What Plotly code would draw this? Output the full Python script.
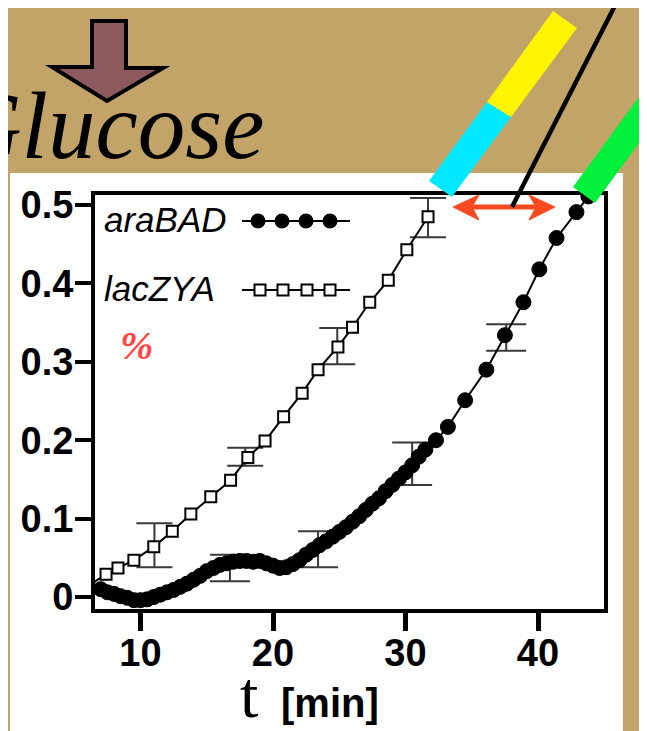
import plotly.graph_objects as go

W, H = 647, 731
OFF = 8  # the page places the figure 8 px in from the top-left corner

# ---------------- data ----------------
ara_t = [6.5, 7.0, 7.5, 8.0, 8.5, 9.0, 9.5, 10.0, 10.5, 11.0, 11.5, 12.0, 12.5, 13.0, 13.5,
         14.0, 14.5, 15.0, 15.5, 16.0, 16.5, 17.0, 17.5, 18.0, 18.5, 19.0, 19.5, 20.0, 20.5,
         21.0, 21.5, 22.0, 22.5, 23.0, 23.5, 24.0, 24.5, 25.0, 25.5, 26.0, 26.5, 27.0, 27.5,
         28.0, 28.5, 29.0, 29.5, 30.0, 30.5, 31.0, 31.5,
         32.3, 33.2, 34.5, 36.1, 37.5, 38.9, 40.1, 41.4, 42.9, 43.8]
ara_v = [0.014, 0.010, 0.006, 0.004, 0.001, -0.001, -0.004, -0.004, -0.003, 0.000, 0.003,
         0.006, 0.009, 0.013, 0.017, 0.022, 0.027, 0.033, 0.037, 0.041, 0.043, 0.045, 0.046,
         0.046, 0.045, 0.046, 0.043, 0.040, 0.037, 0.038, 0.042, 0.047, 0.054, 0.060, 0.066,
         0.071, 0.077, 0.083, 0.089, 0.096, 0.103, 0.111, 0.119, 0.126, 0.135, 0.143, 0.151,
         0.159, 0.168, 0.179, 0.188,
         0.200, 0.217, 0.251, 0.290, 0.334, 0.376, 0.418, 0.458, 0.491, 0.511]

lac_t = [6.5, 7.4, 8.3, 9.5, 11.0, 12.4, 13.8, 15.3, 16.8, 18.1, 19.4, 20.8, 22.2, 23.4,
         24.9, 26.0, 27.3, 28.7, 30.1, 31.7]
lac_v = [0.019, 0.029, 0.037, 0.047, 0.064, 0.084, 0.106, 0.128, 0.149, 0.178, 0.199, 0.230,
         0.260, 0.290, 0.319, 0.344, 0.376, 0.404, 0.443, 0.485]

ara_err_t = [16.75, 23.4, 30.5, 37.6]
ara_err_mid = [0.037, 0.061, 0.170, 0.331]
ara_err = [0.017, 0.023, 0.027, 0.017]

lac_err_t = [11.05, 17.9, 24.85, 31.7]
lac_err_mid = [0.066, 0.179, 0.320, 0.484]
lac_err = [0.028, 0.0115, 0.023, 0.025]

x_ticks = [10, 20, 30, 40]
y_ticks = [0, 0.1, 0.2, 0.3, 0.4, 0.5]
y_tick_text = ["0", "0.1", "0.2", "0.3", "0.4", "0.5"]
series_names = ["araBAD", "lacZYA"]

# ---------------- helpers (screen pixel -> paper) ----------------
def X(px):
    return (px - OFF) / W

def Y(py):
    return 1 - (py - OFF) / H

def poly(points):
    return "M " + " L ".join(f"{X(a):.5f},{Y(b):.5f}" for a, b in points) + " Z"

fig = go.Figure()

# error bars (drawn first, beneath markers)
fig.add_trace(go.Scatter(
    x=ara_err_t, y=ara_err_mid, mode="markers", marker=dict(opacity=0, size=2),
    error_y=dict(type="data", array=ara_err, visible=True, color="#3a3a3a",
                 thickness=2, width=20),
    cliponaxis=False, hoverinfo="skip", showlegend=False))
fig.add_trace(go.Scatter(
    x=lac_err_t, y=lac_err_mid, mode="markers", marker=dict(opacity=0, size=2),
    error_y=dict(type="data", array=lac_err, visible=True, color="#3a3a3a",
                 thickness=2, width=18),
    cliponaxis=False, hoverinfo="skip", showlegend=False))

# araBAD
fig.add_trace(go.Scatter(
    x=ara_t, y=ara_v, mode="lines+markers", name=series_names[0],
    line=dict(color="black", width=2),
    marker=dict(symbol="circle", size=15, color="black", line=dict(color="black", width=1)),
    cliponaxis=False, showlegend=False))
# lacZYA
fig.add_trace(go.Scatter(
    x=lac_t, y=lac_v, mode="lines+markers", name=series_names[1],
    line=dict(color="black", width=2),
    marker=dict(symbol="square", size=11, color="white", line=dict(color="black", width=2)),
    cliponaxis=False, showlegend=False))

# legend samples (screen-pixel overlay axes)
leg_ara_y, leg_lac_y = 221, 290
fig.add_trace(go.Scatter(x=[242, 350], y=[leg_ara_y, leg_ara_y], mode="lines",
                         line=dict(color="black", width=2), xaxis="x2", yaxis="y2",
                         hoverinfo="skip", showlegend=False))
fig.add_trace(go.Scatter(x=[258, 282, 306, 330], y=[leg_ara_y] * 4, mode="markers",
                         marker=dict(symbol="circle", size=15, color="black"),
                         xaxis="x2", yaxis="y2", hoverinfo="skip", showlegend=False))
fig.add_trace(go.Scatter(x=[242, 350], y=[leg_lac_y, leg_lac_y], mode="lines",
                         line=dict(color="black", width=2), xaxis="x2", yaxis="y2",
                         hoverinfo="skip", showlegend=False))
fig.add_trace(go.Scatter(x=[260, 283, 307, 330], y=[leg_lac_y] * 4, mode="markers",
                         marker=dict(symbol="square", size=11, color="white",
                                     line=dict(color="black", width=2)),
                         xaxis="x2", yaxis="y2", hoverinfo="skip", showlegend=False))

shapes = []
shapes.append(dict(type="rect", xref="paper", yref="paper", x0=X(10), x1=X(623),
                   y0=Y(760), y1=Y(173), fillcolor="white", line=dict(width=0), layer="below"))
shapes.append(dict(type="path", xref="paper", yref="paper",
                   path=poly([(92, 21), (126, 21), (126, 68), (163, 68), (107, 101), (52, 67), (92, 67)]),
                   fillcolor="#8C5A5E", line=dict(color="black", width=4), layer="above"))
red = "#F84A20"
shapes.append(dict(type="line", xref="paper", yref="paper", x0=X(466), x1=X(542),
                   y0=Y(207), y1=Y(207), line=dict(color=red, width=5), layer="above"))
shapes.append(dict(type="path", xref="paper", yref="paper",
                   path=poly([(453, 207), (479, 195), (472, 207), (479, 220)]),
                   fillcolor=red, line=dict(color=red, width=1), layer="above"))
shapes.append(dict(type="path", xref="paper", yref="paper",
                   path=poly([(555, 207), (529, 195), (536, 207), (529, 220)]),
                   fillcolor=red, line=dict(color=red, width=1), layer="above"))
shapes.append(dict(type="line", xref="paper", yref="paper", x0=X(512), y0=Y(207),
                   x1=X(624), y1=Y(-12), line=dict(color="black", width=4.5), layer="above"))
shapes.append(dict(type="path", xref="paper", yref="paper",
                   path=poly([(429, 181), (452, 197), (511, 117), (487, 102)]),
                   fillcolor="#00E8FF", line=dict(width=0), layer="above"))
shapes.append(dict(type="path", xref="paper", yref="paper",
                   path=poly([(487, 102), (511, 117), (577, 28), (553, 11)]),
                   fillcolor="#FFF500", line=dict(width=0), layer="above"))
shapes.append(dict(type="path", xref="paper", yref="paper",
                   path=poly([(573, 187), (595, 203), (700, 60), (678, 44)]),
                   fillcolor="#00F03C", line=dict(width=0), layer="above"))

annotations = [
    dict(text="<i>Glucose</i>", x=266, y=126, xref="x2", yref="y2", xanchor="right",
         yanchor="middle", showarrow=False,
         font=dict(family="Liberation Serif", size=95, color="black")),
    dict(text="<i>araBAD</i>", x=102, y=219, xref="x2", yref="y2", xanchor="left",
         yanchor="middle", showarrow=False,
         font=dict(family="Liberation Sans", size=35, color="black")),
    dict(text="<i>lacZYA</i>", x=102, y=288, xref="x2", yref="y2", xanchor="left",
         yanchor="middle", showarrow=False,
         font=dict(family="Liberation Sans", size=35, color="black")),
    dict(text="<b><i>%</i></b>", x=136, y=345, xref="x2", yref="y2", xanchor="center",
         yanchor="middle", showarrow=False,
         font=dict(family="Liberation Serif", size=40, color="#FF4444")),
    dict(text="t", x=249, y=733, xref="x2", yref="y2", xanchor="center",
         yanchor="bottom", showarrow=False,
         font=dict(family="Liberation Serif", size=66, color="black")),
    dict(text="<b>[min]</b>", x=279, y=703, xref="x2", yref="y2", xanchor="left",
         yanchor="middle", showarrow=False,
         font=dict(family="Liberation Sans", size=40, color="black")),
]

fig.update_layout(
    width=W, height=H, margin=dict(l=0, r=0, t=0, b=0, pad=0, autoexpand=False),
    paper_bgcolor="#C2A468", plot_bgcolor="rgba(0,0,0,0)",
    showlegend=False, hovermode=False,
    shapes=shapes, annotations=annotations,
    xaxis=dict(domain=[X(95), X(604)], range=[6.566, 44.98], anchor="y", automargin=False,
               tickmode="array", tickvals=x_ticks, ticks="outside", ticklen=18, tickwidth=5,
               tickcolor="black", showline=True, linewidth=4, linecolor="black", mirror=True,
               showgrid=False, zeroline=False, layer="below traces", ticklabelstandoff=-11,
               tickfont=dict(family="Liberation Sans", size=38, color="black", weight="bold")),
    yaxis=dict(domain=[Y(609), Y(195)], range=[-0.0153, 0.5128], anchor="x", automargin=False,
               tickmode="array", tickvals=y_ticks, ticktext=y_tick_text, ticks="outside",
               ticklen=16, tickwidth=4, tickcolor="black", showline=True, linewidth=4,
               linecolor="black", mirror=True, showgrid=False, zeroline=False,
               layer="below traces", ticklabelstandoff=-6,
               tickfont=dict(family="Liberation Sans", size=38, color="black", weight="bold")),
    xaxis2=dict(domain=[0, 1], range=[OFF, OFF + W], anchor="y2", visible=False,
                fixedrange=True, automargin=False),
    yaxis2=dict(domain=[0, 1], range=[OFF + H, OFF], anchor="x2", visible=False,
                fixedrange=True, automargin=False),
)

fig.write_html("out.html")
